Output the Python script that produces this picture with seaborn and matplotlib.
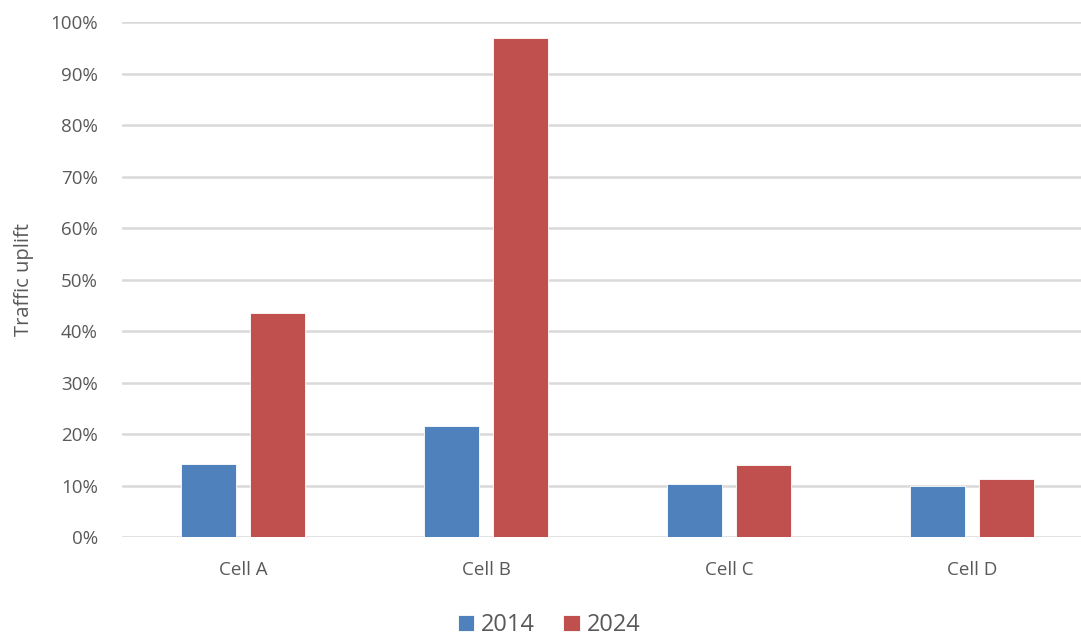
import pandas as pd
import matplotlib.pyplot as plt
import seaborn as sns
from matplotlib.ticker import PercentFormatter

# values (traffic uplift, %)
cells = ["Cell A", "Cell B", "Cell C", "Cell D"]
years = ["2014", "2024"]
uplift_2014 = [14.2, 21.7, 10.4, 9.9]
uplift_2024 = [43.6, 97.0, 14.0, 11.4]

df = pd.DataFrame({
    "cell": cells * 2,
    "year": [years[0]] * 4 + [years[1]] * 4,
    "uplift": uplift_2014 + uplift_2024,
})

sns.set_theme(style="white")
plt.rcParams["font.family"] = ["Open Sans", "DejaVu Sans"]

fig = plt.figure(figsize=(10.81, 6.35), dpi=100)
ax = fig.add_axes([121.5 / 1081, 1 - 537.3 / 635, 972 / 1081, 515 / 635])

sns.barplot(data=df, x="cell", y="uplift", hue="year", ax=ax,
            palette=["#4F81BD", "#C0504D"], saturation=1,
            width=0.568, gap=0.2,
            edgecolor="white", linewidth=0.6, zorder=3)

ax.set_ylim(0, 100)
ax.set_xlim(-0.5, 3.5)
ax.set_yticks(range(0, 101, 10))
ax.yaxis.set_major_formatter(PercentFormatter(decimals=0))
ax.grid(axis="y", color="#D9D9D9", linewidth=1.8, zorder=0)
ax.set_axisbelow(True)
for s in ax.spines.values():
    s.set_visible(False)
ax.tick_params(axis="both", length=0, colors="#595959", labelsize=13.5)
ax.tick_params(axis="x", pad=17)
ax.tick_params(axis="y", pad=17)
ax.set_xlabel("")
ax.set_ylabel("Traffic uplift", color="#595959", fontsize=14.5, labelpad=12)

ax.legend(loc="lower center", bbox_to_anchor=(0.44, -0.235), ncol=2,
          frameon=False, fontsize=17, labelcolor="#595959",
          handlelength=0.7, handleheight=0.7, handletextpad=0.3,
          columnspacing=1.2)

fig.savefig("out.png", dpi=100)
